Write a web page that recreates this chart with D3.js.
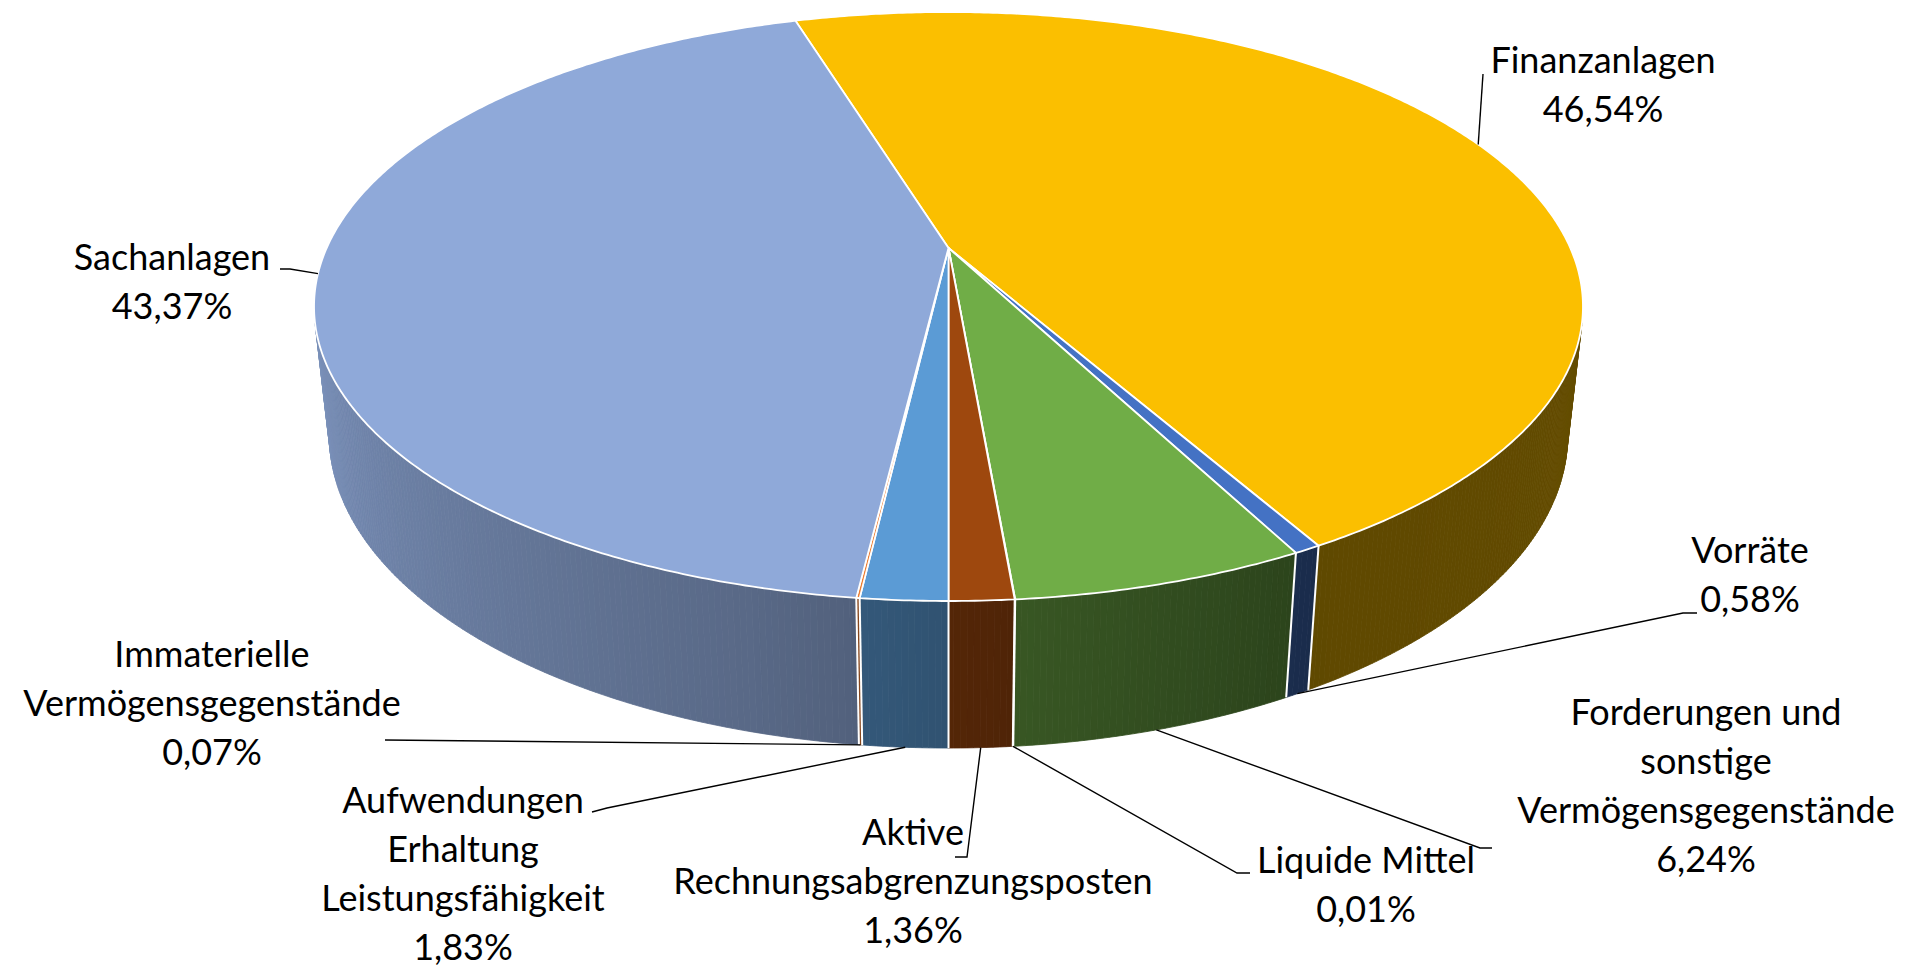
<!DOCTYPE html>
<html>
<head>
<meta charset="utf-8">
<script src="https://cdn.jsdelivr.net/npm/d3@7"></script>
<style>
  html, body { margin: 0; padding: 0; background: #ffffff; }
  svg { display: block; }
</style>
</head>
<body>
<svg id="chart" width="1925" height="969"></svg>
<script>
// ---- data -------------------------------------------------------------
const categories = [
  "Finanzanlagen",
  "Vorräte",
  "Forderungen und sonstige Vermögensgegenstände",
  "Liquide Mittel",
  "Aktive Rechnungsabgrenzungsposten",
  "Aufwendungen Erhaltung Leistungsfähigkeit",
  "Immaterielle Vermögensgegenstände",
  "Sachanlagen"
];
const shares = [46.54, 0.58, 6.24, 0.01, 1.36, 1.83, 0.07, 43.37];
const labelLines = [
  ["Finanzanlagen"],
  ["Vorräte"],
  ["Forderungen und", "sonstige", "Vermögensgegenstände"],
  ["Liquide Mittel"],
  ["Aktive", "Rechnungsabgrenzungsposten"],
  ["Aufwendungen", "Erhaltung", "Leistungsfähigkeit"],
  ["Immaterielle", "Vermögensgegenstände"],
  ["Sachanlagen"]
];

// ---- styling ----------------------------------------------------------
const sliceColors = ["#FBBF00", "#4472C4", "#70AD47", "#A5A5A5",
                     "#9E480E", "#5B9BD5", "#ED7D31", "#8FA9D9"];
const firstSliceAngle = -17.03;          // degrees, clockwise from the back
const fontSize = 36, lineHeight = 49;

// label boxes: text centre, first baseline, where the leader attaches
// on the pie ("top" rim or "base" of the wall) and its bend points
const labelLayout = [
  { x: 1603, y: 73,  attach: "top",  path: [[1483, 74]] },
  { x: 1750, y: 563, attach: "base", path: [[1683, 613], [1697, 613]] },
  { x: 1706, y: 725, attach: "base", path: [[1480, 848], [1492, 848]] },
  { x: 1366, y: 873, attach: "base", path: [[1237, 873], [1250, 873]] },
  { x: 913,  y: 845, attach: "base", path: [[967, 857], [955, 857]] },
  { x: 463,  y: 813, attach: "base", path: [[607, 808], [592, 812]] },
  { x: 212,  y: 667, attach: "base", path: [[385, 740]] },
  { x: 172,  y: 270, attach: "top",  path: [[290, 269], [280, 269]] }
];

// perspective camera looking down onto the disc (unit radius)
const view = { cx: 948.5, cy: 248, focal: 2787, dist: 4.482,
               tilt: Math.asin(0.4549), height: 0.2342 };

// ---- geometry ---------------------------------------------------------
const sinT = Math.sin(view.tilt), cosT = Math.cos(view.tilt);
function project(phi, r, z) {
  const u = r * Math.sin(phi), v = r * Math.cos(phi);
  const d = view.dist + v * cosT - z * sinT;
  return [view.cx + view.focal * u / d,
          view.cy - view.focal * (v * sinT + z * cosT) / d];
}
const H = -view.height;
const TAU = 2 * Math.PI;
const start = firstSliceAngle * Math.PI / 180;
const arcs = d3.pie().sort(null).startAngle(start).endAngle(start + TAU)(shares);

// outer wall faces the camera only inside this angular window
const wallMin = Math.acos(-1 / (view.dist * cosT));
const wallMax = TAU - wallMin;

// wall brightness relative to the top colour, by angle (degrees)
const shade = d3.scaleLinear()
  .domain([100, 150, 175, 195, 260])
  .range([0.40, 0.38, 0.50, 0.62, 0.87])
  .clamp(true);

const fmt = d3.formatLocale({ decimal: ",", thousands: ".", grouping: [3],
                              currency: ["", " €"] }).format(".2f");

const svg = d3.select("#chart");
const gWall = svg.append("g");
const gEdges = svg.append("g");
const gTop = svg.append("g");
const gLead = svg.append("g");
const gText = svg.append("g");

const step = Math.PI / 360;
const line = d3.line();

// side wall, drawn in narrow strips so the lighting can vary
arcs.forEach((a, i) => {
  const a0 = Math.max(a.startAngle, wallMin);
  const a1 = Math.min(a.endAngle, wallMax);
  if (a1 <= a0) return;
  const base = d3.rgb(sliceColors[i]);
  for (let t = a0; t < a1; t += step) {
    const t1 = Math.min(t + step, a1);
    const f = shade(((t + t1) / 2) * 180 / Math.PI);
    const c = d3.rgb(base.r * f, base.g * f, base.b * f).formatHex();
    const pts = [project(t, 1, 0), project(t1, 1, 0), project(t1, 1, H), project(t, 1, H)];
    gWall.append("path")
      .attr("d", line(pts) + "Z")
      .attr("fill", c)
      .attr("stroke", c)
      .attr("stroke-width", 0.8);
  }
});

// white seams between slices on the wall
arcs.forEach(a => {
  let t = a.startAngle;
  if (t < 0) t += TAU;
  if (t > wallMin && t < wallMax) {
    gEdges.append("path")
      .attr("d", line([project(t, 1, 0), project(t, 1, H)]))
      .attr("stroke", "#ffffff")
      .attr("stroke-width", 2)
      .attr("fill", "none");
  }
});

// top faces
arcs.forEach((a, i) => {
  const n = Math.max(2, Math.ceil((a.endAngle - a.startAngle) / step));
  const pts = [project(0, 0, 0)];
  for (let k = 0; k <= n; k++) {
    pts.push(project(a.startAngle + (a.endAngle - a.startAngle) * k / n, 1, 0));
  }
  gTop.append("path")
    .attr("d", line(pts) + "Z")
    .attr("fill", sliceColors[i])
    .attr("stroke", "#ffffff")
    .attr("stroke-width", 1.8)
    .attr("stroke-linejoin", "round");
});

// leader lines and labels
arcs.forEach((a, i) => {
  const lay = labelLayout[i];
  const mid = (a.startAngle + a.endAngle) / 2;
  const anchor = project(mid, 1, lay.attach === "top" ? 0 : H);
  gLead.append("path")
    .attr("d", line([anchor, ...lay.path]))
    .attr("fill", "none")
    .attr("stroke", "#000000")
    .attr("stroke-width", 1.4);

  const lines = labelLines[i].concat([fmt(shares[i]) + "%"]);
  const txt = gText.append("text")
    .attr("text-anchor", "middle")
    .attr("font-family", "Lato, 'Open Sans', sans-serif")
    .attr("font-size", fontSize)
    .attr("fill", "#000000");
  lines.forEach((s, k) => {
    txt.append("tspan")
      .attr("x", lay.x)
      .attr("y", lay.y + k * lineHeight)
      .text(s);
  });
  txt.append("title").text(categories[i]);
});
</script>
</body>
</html>
